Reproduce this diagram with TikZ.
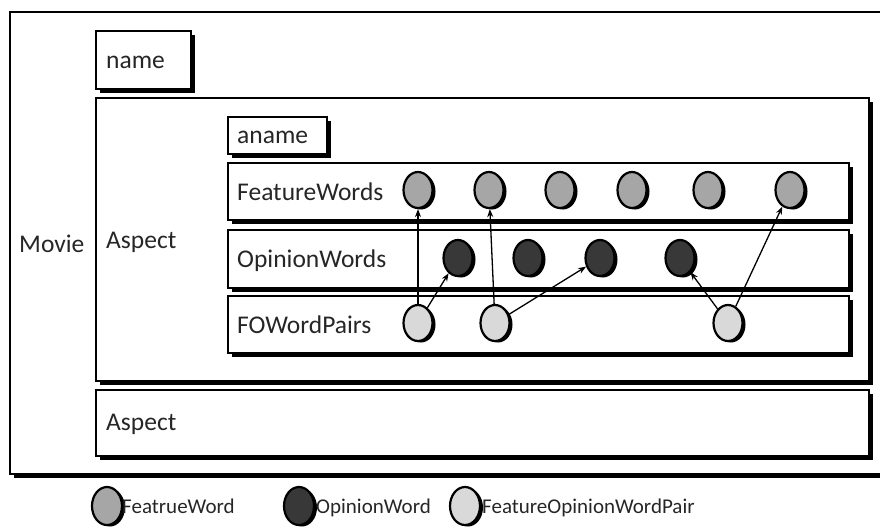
\documentclass[tikz,border=0pt]{standalone}
\usepackage{fontspec}
\setmainfont{Carlito}
\usetikzlibrary{shapes.geometric,shadows,arrows.meta}
\tikzset{
  box/.style={draw, line width=2pt, fill=white, anchor=north west, inner sep=0pt,
    drop shadow={shadow xshift=3.5pt, shadow yshift=-3.5pt, fill=black, opacity=1}},
  lbl/.style={anchor=base west, inner sep=0pt, text=black!85, font=\fontsize{25.5}{30}\selectfont},
  leglbl/.style={lbl, font=\fontsize{21}{24}\selectfont},
  word/.style={ellipse, draw, line width=2.2pt, minimum width=29pt, minimum height=36pt, inner sep=0pt,
    drop shadow={shadow xshift=3pt, shadow yshift=-1.5pt, fill=black, opacity=1}},
  legword/.style={minimum width=30pt, minimum height=38pt},
  fw/.style={word, fill=black!35},
  ow/.style={word, fill=black!78},
  pw/.style={word, fill=black!15}
}
\begin{document}
\begin{tikzpicture}[x=1pt, y=-1pt]
  \useasboundingbox (0,0) rectangle (880,531);
  % containers
  \node[box, minimum width=873pt, minimum height=462pt] (movie) at (9,11) {};
  \node[box, minimum width=95pt, minimum height=58pt] (name) at (95,30) {};
  \node[box, minimum width=773pt, minimum height=283pt] (aspect) at (95,97) {};
  \node[box, minimum width=773pt, minimum height=66pt] (aspect2) at (95,389) {};
  \node[box, minimum width=99pt, minimum height=37pt] (aname) at (227,116) {};
  \node[box, minimum width=621pt, minimum height=57pt] (feature) at (227,162) {};
  \node[box, minimum width=621pt, minimum height=58pt] (opinion) at (227,229) {};
  \node[box, minimum width=621pt, minimum height=57pt] (pairs) at (227,295) {};
  % labels
  \node[lbl] (movielbl) at (19,252) {Movie};
  \node[lbl] (namelbl) at (106,68) {name};
  \node[lbl] (aspectlbl) at (106,248) {Aspect};
  \node[lbl] (aspect2lbl) at (106,430) {Aspect};
  \node[lbl] (anamelbl) at (237,143) {aname};
  \node[lbl] (featurelbl) at (237,200) {FeatureWords};
  \node[lbl] (opinionlbl) at (237,267) {OpinionWords};
  \node[lbl] (pairslbl) at (237,333) {FOWordPairs};
  % words
  \draw
    (418,190) node[fw] (f1){}
    (489,190) node[fw] (f2){}
    (560,190) node[fw] (f3){}
    (632,190) node[fw] (f4){}
    (708,190) node[fw] (f5){}
    (790,190) node[fw] (f6){}
    (458,258) node[ow] (o1){}
    (528,258) node[ow] (o2){}
    (600,258) node[ow] (o3){}
    (680,258) node[ow] (o4){}
    (418,323) node[pw] (p1){}
    (495,323) node[pw] (p2){}
    (728,323) node[pw] (p3){};
  \begin{scope}[-{Stealth[length=8pt,width=6pt]}, line width=1.3pt]
    \draw (p1) to (f1);
    \draw (p1) to (o1);
    \draw (p2) to (f2);
    \draw (p2) to (o3);
    \draw (p3) to (o4);
    \draw (p3) to (f6);
  \end{scope}
  % legend
  \node[fw, legword] (legf) at (107,506) {};
  \node[leglbl] (legflbl) at (122,513) {FeatrueWord};
  \node[ow, legword] (lego) at (299,506) {};
  \node[leglbl] (legolbl) at (316,513) {OpinionWord};
  \node[pw, legword] (legp) at (465,506) {};
  \node[leglbl] (legplbl) at (482,513) {FeatureOpinionWordPair};
\end{tikzpicture}
\end{document}
